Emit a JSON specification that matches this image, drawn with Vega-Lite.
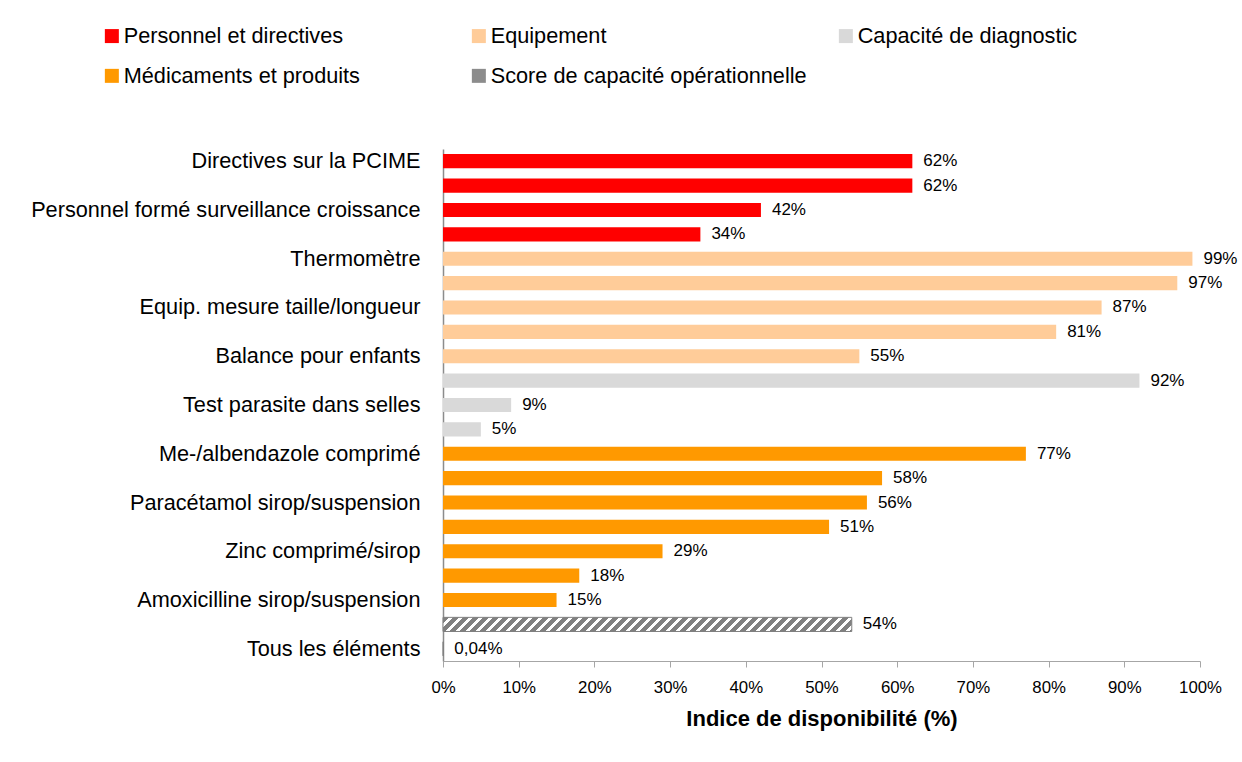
{
  "$schema": "https://vega.github.io/schema/vega-lite/v6.json",
  "autosize": {"type": "none"},
  "padding": {"left": 443, "top": 149, "right": 42, "bottom": 101},
  "width": 757,
  "height": 512,
  "background": "white",
  "config": {
    "view": {"stroke": null},
    "font": "Liberation Sans",
    "locale": {"number": {"decimal": ",", "thousands": " ", "grouping": [3], "currency": ["", "%"]}}
  },
  "data": {"values": [
    {"item": "Directives sur la PCIME", "category": "Personnel et directives", "value": 62},
    {"item": "#2", "category": "Personnel et directives", "value": 62},
    {"item": "Personnel formé surveillance croissance", "category": "Personnel et directives", "value": 42},
    {"item": "#4", "category": "Personnel et directives", "value": 34},
    {"item": "Thermomètre", "category": "Equipement", "value": 99},
    {"item": "#6", "category": "Equipement", "value": 97},
    {"item": "Equip. mesure taille/longueur", "category": "Equipement", "value": 87},
    {"item": "#8", "category": "Equipement", "value": 81},
    {"item": "Balance pour enfants", "category": "Equipement", "value": 55},
    {"item": "#10", "category": "Capacité de diagnostic", "value": 92},
    {"item": "Test parasite dans selles", "category": "Capacité de diagnostic", "value": 9},
    {"item": "#12", "category": "Capacité de diagnostic", "value": 5},
    {"item": "Me-/albendazole comprimé", "category": "Médicaments et produits", "value": 77},
    {"item": "#14", "category": "Médicaments et produits", "value": 58},
    {"item": "Paracétamol sirop/suspension", "category": "Médicaments et produits", "value": 56},
    {"item": "#16", "category": "Médicaments et produits", "value": 51},
    {"item": "Zinc comprimé/sirop", "category": "Médicaments et produits", "value": 29},
    {"item": "#18", "category": "Médicaments et produits", "value": 18},
    {"item": "Amoxicilline sirop/suspension", "category": "Médicaments et produits", "value": 15},
    {"item": "#20", "category": "Score de capacité opérationnelle", "value": 54},
    {"item": "Tous les éléments", "category": "Score de capacité opérationnelle", "value": 0.04}
  ]},
  "encoding": {
    "y": {
      "field": "item", "type": "nominal", "sort": null,
      "scale": {"paddingInner": 0.42, "paddingOuter": 0.21},
      "axis": {
        "title": null,
        "labelExpr": "indexof(datum.value, '#') == 0 ? '' : datum.value",
        "labelFontSize": 21.7, "labelColor": "#000", "labelLimit": 600,
        "labelPadding": 23, "ticks": false, "tickSize": 0,
        "domainColor": "#8c8c8c", "domainWidth": 1.5
      }
    },
    "x": {
      "field": "value", "type": "quantitative",
      "scale": {"domain": [0, 100], "nice": false},
      "axis": {
        "title": "Indice de disponibilité (%)",
        "titleFontSize": 22, "titleFontWeight": "bold", "titleColor": "#000", "titlePadding": 13,
        "values": [0, 10, 20, 30, 40, 50, 60, 70, 80, 90, 100],
        "labelExpr": "datum.value + '%'", "labelFlush": false,
        "labelFontSize": 16.8, "labelColor": "#000", "labelPadding": 12,
        "tickSize": 6, "tickColor": "#a6a6a6", "domainColor": "#a6a6a6",
        "grid": false
      }
    }
  },
  "layer": [
    {
      "mark": {"type": "bar", "strokeWidth": 0},
      "encoding": {
        "stroke": {"condition": {"test": "datum.category === 'Score de capacité opérationnelle'", "value": "#808080"}, "value": null},
        "strokeWidth": {"value": 1},
        "color": {
          "condition": {
            "test": "datum.category === 'Score de capacité opérationnelle'",
            "value": {"gradient": "linear", "x1": 0, "y1": 0, "x2": 1.2216, "y2": 0.04214, "stops": [
              {"offset": 0, "color": "#808080"}, {"offset": 0.012, "color": "#808080"}, {"offset": 0.012, "color": "#ffffff"}, {"offset": 0.02, "color": "#ffffff"},
              {"offset": 0.02, "color": "#808080"}, {"offset": 0.032, "color": "#808080"}, {"offset": 0.032, "color": "#ffffff"}, {"offset": 0.04, "color": "#ffffff"},
              {"offset": 0.04, "color": "#808080"}, {"offset": 0.052, "color": "#808080"}, {"offset": 0.052, "color": "#ffffff"}, {"offset": 0.06, "color": "#ffffff"},
              {"offset": 0.06, "color": "#808080"}, {"offset": 0.072, "color": "#808080"}, {"offset": 0.072, "color": "#ffffff"}, {"offset": 0.08, "color": "#ffffff"},
              {"offset": 0.08, "color": "#808080"}, {"offset": 0.092, "color": "#808080"}, {"offset": 0.092, "color": "#ffffff"}, {"offset": 0.1, "color": "#ffffff"},
              {"offset": 0.1, "color": "#808080"}, {"offset": 0.112, "color": "#808080"}, {"offset": 0.112, "color": "#ffffff"}, {"offset": 0.12, "color": "#ffffff"},
              {"offset": 0.12, "color": "#808080"}, {"offset": 0.132, "color": "#808080"}, {"offset": 0.132, "color": "#ffffff"}, {"offset": 0.14, "color": "#ffffff"},
              {"offset": 0.14, "color": "#808080"}, {"offset": 0.152, "color": "#808080"}, {"offset": 0.152, "color": "#ffffff"}, {"offset": 0.16, "color": "#ffffff"},
              {"offset": 0.16, "color": "#808080"}, {"offset": 0.172, "color": "#808080"}, {"offset": 0.172, "color": "#ffffff"}, {"offset": 0.18, "color": "#ffffff"},
              {"offset": 0.18, "color": "#808080"}, {"offset": 0.192, "color": "#808080"}, {"offset": 0.192, "color": "#ffffff"}, {"offset": 0.2, "color": "#ffffff"},
              {"offset": 0.2, "color": "#808080"}, {"offset": 0.212, "color": "#808080"}, {"offset": 0.212, "color": "#ffffff"}, {"offset": 0.22, "color": "#ffffff"},
              {"offset": 0.22, "color": "#808080"}, {"offset": 0.232, "color": "#808080"}, {"offset": 0.232, "color": "#ffffff"}, {"offset": 0.24, "color": "#ffffff"},
              {"offset": 0.24, "color": "#808080"}, {"offset": 0.252, "color": "#808080"}, {"offset": 0.252, "color": "#ffffff"}, {"offset": 0.26, "color": "#ffffff"},
              {"offset": 0.26, "color": "#808080"}, {"offset": 0.272, "color": "#808080"}, {"offset": 0.272, "color": "#ffffff"}, {"offset": 0.28, "color": "#ffffff"},
              {"offset": 0.28, "color": "#808080"}, {"offset": 0.292, "color": "#808080"}, {"offset": 0.292, "color": "#ffffff"}, {"offset": 0.3, "color": "#ffffff"},
              {"offset": 0.3, "color": "#808080"}, {"offset": 0.312, "color": "#808080"}, {"offset": 0.312, "color": "#ffffff"}, {"offset": 0.32, "color": "#ffffff"},
              {"offset": 0.32, "color": "#808080"}, {"offset": 0.332, "color": "#808080"}, {"offset": 0.332, "color": "#ffffff"}, {"offset": 0.34, "color": "#ffffff"},
              {"offset": 0.34, "color": "#808080"}, {"offset": 0.352, "color": "#808080"}, {"offset": 0.352, "color": "#ffffff"}, {"offset": 0.36, "color": "#ffffff"},
              {"offset": 0.36, "color": "#808080"}, {"offset": 0.372, "color": "#808080"}, {"offset": 0.372, "color": "#ffffff"}, {"offset": 0.38, "color": "#ffffff"},
              {"offset": 0.38, "color": "#808080"}, {"offset": 0.392, "color": "#808080"}, {"offset": 0.392, "color": "#ffffff"}, {"offset": 0.4, "color": "#ffffff"},
              {"offset": 0.4, "color": "#808080"}, {"offset": 0.412, "color": "#808080"}, {"offset": 0.412, "color": "#ffffff"}, {"offset": 0.42, "color": "#ffffff"},
              {"offset": 0.42, "color": "#808080"}, {"offset": 0.432, "color": "#808080"}, {"offset": 0.432, "color": "#ffffff"}, {"offset": 0.44, "color": "#ffffff"},
              {"offset": 0.44, "color": "#808080"}, {"offset": 0.452, "color": "#808080"}, {"offset": 0.452, "color": "#ffffff"}, {"offset": 0.46, "color": "#ffffff"},
              {"offset": 0.46, "color": "#808080"}, {"offset": 0.472, "color": "#808080"}, {"offset": 0.472, "color": "#ffffff"}, {"offset": 0.48, "color": "#ffffff"},
              {"offset": 0.48, "color": "#808080"}, {"offset": 0.492, "color": "#808080"}, {"offset": 0.492, "color": "#ffffff"}, {"offset": 0.5, "color": "#ffffff"},
              {"offset": 0.5, "color": "#808080"}, {"offset": 0.512, "color": "#808080"}, {"offset": 0.512, "color": "#ffffff"}, {"offset": 0.52, "color": "#ffffff"},
              {"offset": 0.52, "color": "#808080"}, {"offset": 0.532, "color": "#808080"}, {"offset": 0.532, "color": "#ffffff"}, {"offset": 0.54, "color": "#ffffff"},
              {"offset": 0.54, "color": "#808080"}, {"offset": 0.552, "color": "#808080"}, {"offset": 0.552, "color": "#ffffff"}, {"offset": 0.56, "color": "#ffffff"},
              {"offset": 0.56, "color": "#808080"}, {"offset": 0.572, "color": "#808080"}, {"offset": 0.572, "color": "#ffffff"}, {"offset": 0.58, "color": "#ffffff"},
              {"offset": 0.58, "color": "#808080"}, {"offset": 0.592, "color": "#808080"}, {"offset": 0.592, "color": "#ffffff"}, {"offset": 0.6, "color": "#ffffff"},
              {"offset": 0.6, "color": "#808080"}, {"offset": 0.612, "color": "#808080"}, {"offset": 0.612, "color": "#ffffff"}, {"offset": 0.62, "color": "#ffffff"},
              {"offset": 0.62, "color": "#808080"}, {"offset": 0.632, "color": "#808080"}, {"offset": 0.632, "color": "#ffffff"}, {"offset": 0.64, "color": "#ffffff"},
              {"offset": 0.64, "color": "#808080"}, {"offset": 0.652, "color": "#808080"}, {"offset": 0.652, "color": "#ffffff"}, {"offset": 0.66, "color": "#ffffff"},
              {"offset": 0.66, "color": "#808080"}, {"offset": 0.672, "color": "#808080"}, {"offset": 0.672, "color": "#ffffff"}, {"offset": 0.68, "color": "#ffffff"},
              {"offset": 0.68, "color": "#808080"}, {"offset": 0.692, "color": "#808080"}, {"offset": 0.692, "color": "#ffffff"}, {"offset": 0.7, "color": "#ffffff"},
              {"offset": 0.7, "color": "#808080"}, {"offset": 0.712, "color": "#808080"}, {"offset": 0.712, "color": "#ffffff"}, {"offset": 0.72, "color": "#ffffff"},
              {"offset": 0.72, "color": "#808080"}, {"offset": 0.732, "color": "#808080"}, {"offset": 0.732, "color": "#ffffff"}, {"offset": 0.74, "color": "#ffffff"},
              {"offset": 0.74, "color": "#808080"}, {"offset": 0.752, "color": "#808080"}, {"offset": 0.752, "color": "#ffffff"}, {"offset": 0.76, "color": "#ffffff"},
              {"offset": 0.76, "color": "#808080"}, {"offset": 0.772, "color": "#808080"}, {"offset": 0.772, "color": "#ffffff"}, {"offset": 0.78, "color": "#ffffff"},
              {"offset": 0.78, "color": "#808080"}, {"offset": 0.792, "color": "#808080"}, {"offset": 0.792, "color": "#ffffff"}, {"offset": 0.8, "color": "#ffffff"},
              {"offset": 0.8, "color": "#808080"}, {"offset": 0.812, "color": "#808080"}, {"offset": 0.812, "color": "#ffffff"}, {"offset": 0.82, "color": "#ffffff"},
              {"offset": 0.82, "color": "#808080"}, {"offset": 0.832, "color": "#808080"}, {"offset": 0.832, "color": "#ffffff"}, {"offset": 0.84, "color": "#ffffff"},
              {"offset": 0.84, "color": "#808080"}, {"offset": 0.852, "color": "#808080"}, {"offset": 0.852, "color": "#ffffff"}, {"offset": 0.86, "color": "#ffffff"},
              {"offset": 0.86, "color": "#808080"}, {"offset": 1, "color": "#808080"}
            ]}
          },
          "field": "category", "type": "nominal",
          "scale": {
            "domain": ["Personnel et directives", "Equipement", "Capacité de diagnostic", "Médicaments et produits", "Score de capacité opérationnelle"],
            "range": ["#ff0000", "#ffcc99", "#d9d9d9", "#ff9900", "#8c8c8c"]
          },
          "legend": {
            "title": null, "orient": "none", "legendX": -342, "legendY": -124, "direction": "horizontal",
            "columns": 3, "gridAlign": "all", "columnPadding": 28, "rowPadding": 17,
            "symbolType": "square", "symbolSize": 196, "symbolStrokeWidth": 0,
            "labelFontSize": 21.7, "labelColor": "#000", "labelLimit": 600, "labelOffset": 1
          }
        }
      }
    },
    {
      "mark": {"type": "text", "align": "left", "baseline": "middle", "dx": 11, "fontSize": 17, "color": "#000"},
      "encoding": {
        "text": {"field": "value", "type": "quantitative", "format": "$.2~f"}
      }
    }
  ]
}
